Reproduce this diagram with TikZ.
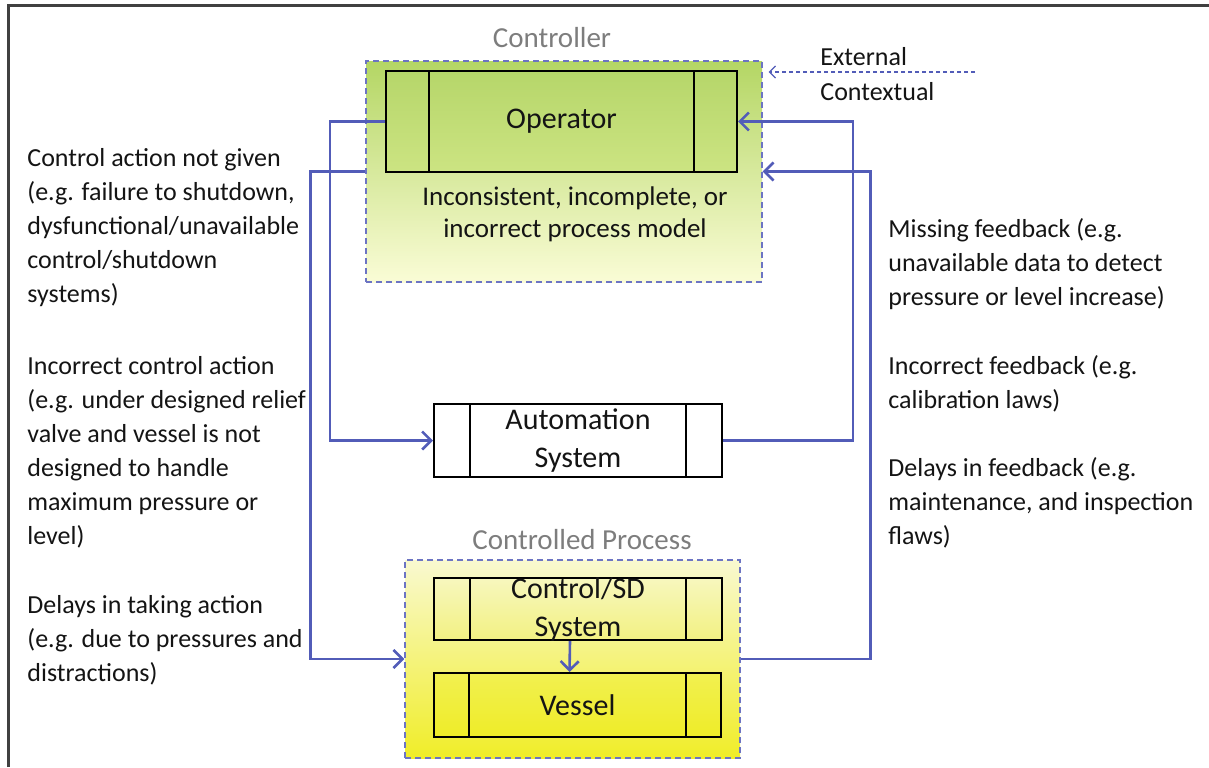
\documentclass[tikz,border=0pt]{standalone}
\usepackage{fontspec}
\setmainfont{Carlito}
\usetikzlibrary{arrows.meta,positioning}
\definecolor{flowblue}{RGB}{82,92,184}
\definecolor{inktext}{RGB}{20,20,20}
\definecolor{labelgray}{RGB}{125,125,125}
\definecolor{ctrltop}{RGB}{180,214,100}
\definecolor{ctrlbot}{RGB}{250,252,214}
\definecolor{optop}{RGB}{182,214,106}
\definecolor{opbot}{RGB}{204,228,130}
\definecolor{proctop}{RGB}{249,249,208}
\definecolor{procbot}{RGB}{240,237,40}
\definecolor{sdtop}{RGB}{247,247,190}
\definecolor{sdbot}{RGB}{242,241,130}
\definecolor{vesseltop}{RGB}{241,240,80}
\definecolor{vesselbot}{RGB}{239,236,40}
\tikzset{
  block/.style={draw=black,line width=1pt,inner sep=0pt,align=center,
    text=inktext,font=\fontsize{15}{19}\selectfont},
  frame/.style={draw=flowblue!85,dashed,line width=0.7pt,
    dash pattern=on 3pt off 2pt,inner sep=0pt},
  flow/.style={draw=flowblue,line width=1.3pt,-{Straight Barb[length=4.5pt,width=9pt]}},
  divider/.style={draw=black,line width=1pt},
  sidetext/.style={align=left,inner sep=0pt,text=inktext,
    font=\fontsize{13}{17}\selectfont},
  grouplabel/.style={text=labelgray,inner sep=0pt,font=\fontsize{14.5}{17}\selectfont}
}
\begin{document}
\begin{tikzpicture}[x=0.5pt,y=-0.5pt]
  \useasboundingbox (0,0) rectangle (1209,767);
  % page frame
  \draw[line width=1.5pt,black!75] (8,767) -- (8,5) -- (1209,5);

  % controller
  \node (ctrlbox) [frame,top color=ctrltop,bottom color=ctrlbot,
    minimum width=198pt,minimum height=110.5pt] at (564,171.5) {};
  \node (ctrllabel) [grouplabel] at (552,38) {Controller};
  \node (op) [block,top color=optop,bottom color=opbot,
    minimum width=175.5pt,minimum height=50.5pt] at (561.5,121.5) {Operator};
  \node (model) [text=inktext,align=center,font=\fontsize{13.5}{16}\selectfont]
    at (575,214) {Inconsistent, incomplete, or\\incorrect process model};

  % external context
  \node (external) [sidetext,anchor=west] at (820,57) {External};
  \node (contextual) [sidetext,anchor=west] at (820,92) {Contextual};
  \coordinate (extsrc) at (975,72);
  \draw[flowblue,line width=0.6pt,dash pattern=on 2pt off 1.5pt,
    -{Straight Barb[length=3pt,width=6pt]}]
    (extsrc) -- ([xshift=3pt]extsrc -| ctrlbox.east);

  % automation
  \node (auto) [block,fill=white,minimum width=144pt,minimum height=36.5pt]
    at (578,440.5) {Automation\\System};

  % controlled process
  \node (procbox) [frame,top color=proctop,bottom color=procbot,
    minimum width=167.5pt,minimum height=99pt] at (572.5,659) {};
  \node (proclabel) [grouplabel] at (582,540) {Controlled Process};
  \node (ctrlsd) [block,top color=sdtop,bottom color=sdbot,
    minimum width=144pt,minimum height=31pt] at (578,609) {};
  \node (sdtext) [text=inktext,align=center,font=\fontsize{15}{19}\selectfont]
    at (578,609) {Control/SD\\System};
  \node (vessel) [block,top color=vesseltop,bottom color=vesselbot,
    minimum width=143.5pt,minimum height=32pt] at (577.5,705) {Vessel};

  \foreach \b/\d in {op/22,auto/18.5,ctrlsd/18.5,vessel/18}
    \draw[divider] ([xshift=\d pt]\b.north west) -- ([xshift=\d pt]\b.south west)
      ([xshift=-\d pt]\b.north east) -- ([xshift=-\d pt]\b.south east);

  % control and feedback paths
  \draw[flow] ([xshift=-4pt]ctrlsd.south) -- ([xshift=-4pt]vessel.north);
  \draw[flow] (op.west) -- ++(-55,0) |- (auto.west);
  \draw[flow] (ctrlbox.west) -- ++(-55,0) |- (procbox.west);
  \draw[flow] (auto.east) -- ++(130,0) |- (op.east);
  \draw[flow] (procbox.east) -- ++(130,0) |- (ctrlbox.east);

  % unsafe control actions
  \node (notgiven) [sidetext,anchor=north west] at (27,148) {Control action not given\\(e.g. failure to shutdown,\\dysfunctional/unavailable\\control/shutdown\\systems)};
  \node (incorrect) [sidetext,anchor=north west] at (27,356) {Incorrect control action\\(e.g. under designed relief\\valve and vessel is not\\designed to handle\\maximum pressure or\\level)};
  \node (delays) [sidetext,anchor=north west] at (27,595) {Delays in taking action\\(e.g. due to pressures and\\distractions)};

  % feedback flaws
  \node (missingfb) [sidetext,anchor=north west] at (888,218) {Missing feedback (e.g.\\unavailable data to detect\\pressure or level increase)};
  \node (incorrectfb) [sidetext,anchor=north west] at (888,355) {Incorrect feedback (e.g.\\calibration laws)};
  \node (delayfb) [sidetext,anchor=north west] at (888,457) {Delays in feedback (e.g.\\maintenance, and inspection\\flaws)};
\end{tikzpicture}
\end{document}
